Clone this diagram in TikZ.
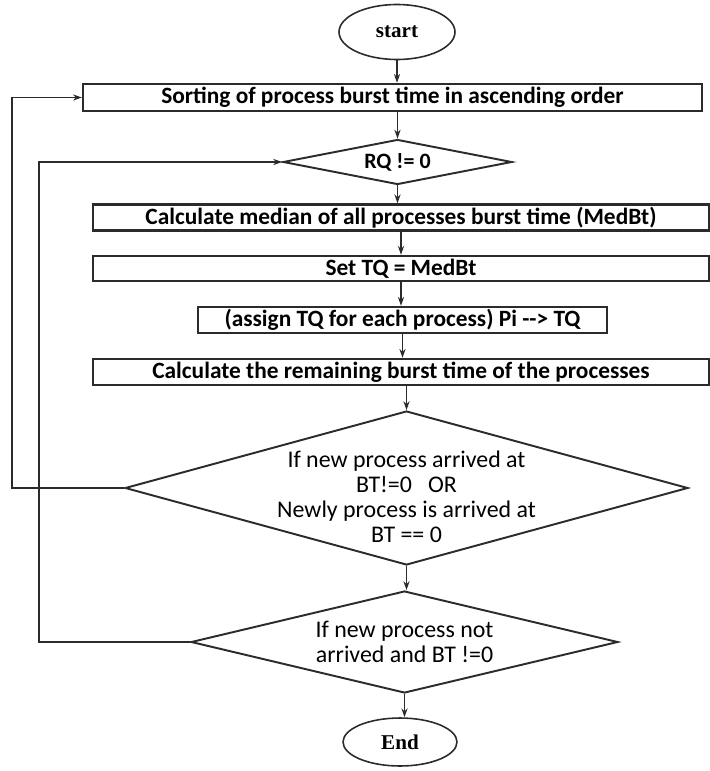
\documentclass[tikz,border=0pt]{standalone}
\usepackage{fontspec}
\setmainfont{Carlito}
\newfontfamily\serifgras{Liberation Serif}
\usetikzlibrary{arrows.meta, shapes.geometric}
\definecolor{trait}{HTML}{2B2B2B}

\begin{document}
\begin{tikzpicture}[x=0.02cm, y=-0.02cm,
    boite/.style={draw=trait, line width=1.4pt, inner sep=0pt, minimum height=0.52cm,
      font=\bfseries\fontsize{13.3}{14}\selectfont},
    losange/.style={draw=trait, line width=1.1pt, diamond, inner sep=0pt, align=center,
      font=\fontsize{13.6}{14.2}\selectfont},
    terminal/.style={draw=trait, line width=0.9pt, ellipse, inner sep=0pt,
      font=\serifgras\bfseries\fontsize{12}{14}\selectfont},
    fleche/.style={draw=trait, line width=0.8pt, -{Stealth[length=5pt, width=3.5pt]}}]
  \useasboundingbox (0,0) rectangle (710,771);
  % Debut et tri
  \node[terminal, minimum width=2.32cm, minimum height=1.1cm] (debut) at (397,32) {start};
  \node[boite, minimum width=12.38cm, minimum height=0.54cm] (tri) at (392.5,97.5) {Sorting of process burst time in ascending order};
  \node[losange, aspect=5.1, minimum width=4.58cm, minimum height=0.9cm,
    font=\bfseries\fontsize{12.5}{14}\selectfont] (rq) at (397.5,162) {RQ != 0};
  % Calcul du quantum
  \node[boite, minimum width=12.32cm] (mediane) at (401,217.5) {Calculate median of all processes burst time (MedBt)};
  \node[boite, minimum width=12.32cm, minimum height=0.5cm] (settq) at (401,268.5) {Set TQ = MedBt};
  \node[boite, minimum width=8.18cm] (assign) at (402.5,320) {(assign TQ for each process) Pi {-}{-}> TQ};
  \node[boite, minimum width=12.32cm] (reste) at (401,372) {Calculate the remaining burst time of the processes};
  % Tests
  \node[losange, aspect=3.66, minimum width=11.26cm, minimum height=3.08cm] (testA) at (406.5,488)
    {\raisebox{-10.2pt}[0pt][0pt]{\begin{tabular}{@{}c@{}}If new process arrived at\\BT!=0~~ OR\\Newly process is arrived at\\BT == 0\end{tabular}}};
  \node[losange, aspect=4.2, minimum width=8.54cm, minimum height=2.04cm] (testB) at (404.5,642)
    {If new process not\\arrived and BT !=0};
  \node[terminal, minimum width=2.28cm, minimum height=0.96cm] (fin) at (400,742) {End};
  % Fleches
  \draw[fleche] (debut.south) -- (debut.south |- tri.north);
  \draw[fleche] (rq.north |- tri.south) -- (rq.north);
  \draw[fleche] (rq.south) -- (rq.south |- mediane.north);
  \draw[fleche] (mediane.south) -- (settq.north);
  \draw[fleche] (settq.south) -- (settq.south |- assign.north);
  \draw[fleche] (assign.south) -- (assign.south |- reste.north);
  \draw[fleche] (testA.north |- reste.south) -- (testA.north);
  \draw[fleche] (testA.south) -- (testA.south |- testB.north);
  \draw[fleche] (testB.south) -- (testB.south |- fin.north);
  % Boucles
  \draw[fleche] (testA.west) -- ++(-112,0) |- (tri.west);
  \draw[fleche] (testB.west) -- ++(-151,0) |- (rq.west);
\end{tikzpicture}
\end{document}
